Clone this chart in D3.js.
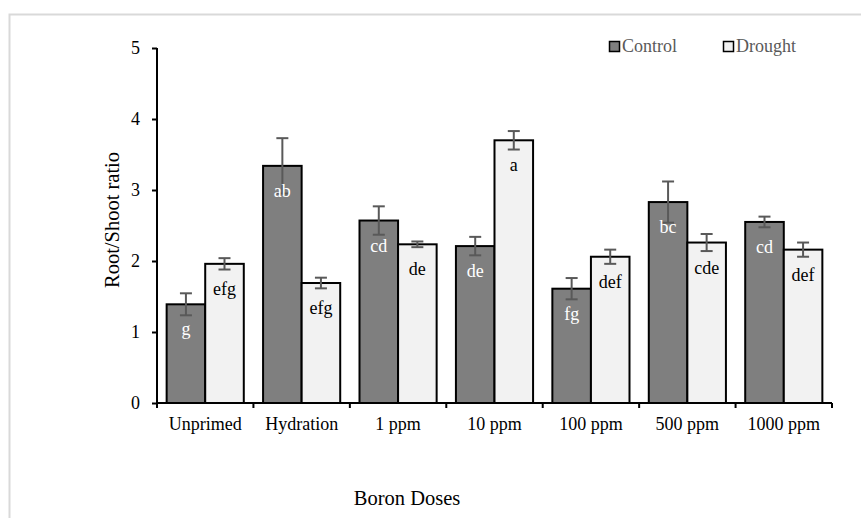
<!DOCTYPE html>
<html><head><meta charset="utf-8">
<script src="https://cdn.jsdelivr.net/npm/d3@7"></script>
<style>
html,body{margin:0;padding:0;background:#fff;}
svg{display:block;}
</style></head>
<body>
<script>
const categories = ["Unprimed","Hydration","1 ppm","10 ppm","100 ppm","500 ppm","1000 ppm"];
const seriesNames = ["Control","Drought"];
const controlValues = [1.39, 3.34, 2.57, 2.21, 1.61, 2.83, 2.55];
const droughtValues = [1.96, 1.69, 2.235, 3.70, 2.06, 2.26, 2.16];
const controlErrors = [0.155, 0.39, 0.20, 0.13, 0.15, 0.29, 0.075];
const droughtErrors = [0.08, 0.075, 0.04, 0.13, 0.10, 0.12, 0.10];
const controlLetters = ["g","ab","cd","de","fg","bc","cd"];
const droughtLetters = ["efg","efg","de","a","def","cde","def"];
const yTicks = [0,1,2,3,4,5];

const FONT = "Liberation Serif, Times New Roman, serif";
const W = 861, H = 518;
const svg = d3.select("body").append("svg").attr("width", W).attr("height", H)
  .attr("font-family", FONT);

// outer frame
svg.append("rect").attr("x", 9.5).attr("y", 14.5).attr("width", 900).attr("height", 600)
  .attr("fill", "none").attr("stroke", "#d9d9d9").attr("stroke-width", 2);

const mLeft = 157, mRight = 832, mTop = 48, mBottom = 403;
const x = d3.scaleBand().domain(categories).range([mLeft, mRight]).paddingInner(0.2).paddingOuter(0.1);
const xs = d3.scaleBand().domain(seriesNames).range([0, x.bandwidth()]);
const y = d3.scaleLinear().domain([0, 5]).range([mBottom, mTop]);

const data = categories.map((c, i) => ({
  cat: c,
  items: [
    {s: "Control", v: controlValues[i], e: controlErrors[i], l: controlLetters[i]},
    {s: "Drought", v: droughtValues[i], e: droughtErrors[i], l: droughtLetters[i]}
  ]
}));
const fill = {Control: "#7f7f7f", Drought: "#f2f2f2"};
const labelColor = {Control: "#ffffff", Drought: "#000000"};

const g = svg.selectAll("g.grp").data(data).enter().append("g")
  .attr("transform", d => `translate(${x(d.cat)},0)`);

g.selectAll("rect").data(d => d.items).enter().append("rect")
  .attr("x", d => xs(d.s)).attr("width", xs.bandwidth())
  .attr("y", d => y(d.v)).attr("height", d => y(0) - y(d.v))
  .attr("fill", d => fill[d.s]).attr("stroke", "#000").attr("stroke-width", 2);

// error bars
const eb = g.selectAll("g.eb").data(d => d.items).enter().append("g").attr("stroke", "#595959").attr("stroke-width", 2);
eb.append("line")
  .attr("x1", d => xs(d.s) + xs.bandwidth()/2).attr("x2", d => xs(d.s) + xs.bandwidth()/2)
  .attr("y1", d => y(d.v - d.e)).attr("y2", d => y(d.v + d.e));
eb.append("line")
  .attr("x1", d => xs(d.s) + xs.bandwidth()/2 - 6).attr("x2", d => xs(d.s) + xs.bandwidth()/2 + 6)
  .attr("y1", d => y(d.v + d.e)).attr("y2", d => y(d.v + d.e));
eb.append("line")
  .attr("x1", d => xs(d.s) + xs.bandwidth()/2 - 6).attr("x2", d => xs(d.s) + xs.bandwidth()/2 + 6)
  .attr("y1", d => y(d.v - d.e)).attr("y2", d => y(d.v - d.e));

// letters
g.selectAll("text.lab").data(d => d.items).enter().append("text")
  .attr("x", d => xs(d.s) + xs.bandwidth()/2)
  .attr("y", d => y(d.v) + 31)
  .attr("text-anchor", "middle").attr("font-size", 18).attr("font-family", FONT)
  .attr("fill", d => labelColor[d.s]).text(d => d.l);

// y axis
const yAxis = svg.append("g").attr("transform", `translate(${mLeft},0)`)
  .call(d3.axisLeft(y).tickValues(yTicks).tickSize(5).tickPadding(12).tickFormat(d3.format("d")));
yAxis.attr("font-family", FONT);
yAxis.select(".domain").attr("stroke", "#000").attr("stroke-width", 2).attr("d", `M0,${mTop}V${mBottom}`);
yAxis.selectAll(".tick line").attr("stroke", "#000").attr("stroke-width", 2);
yAxis.selectAll(".tick text").attr("font-size", 18).attr("font-family", FONT).attr("fill", "#000");

// x axis
const xAxis = svg.append("g").attr("transform", `translate(0,${mBottom})`)
  .call(d3.axisBottom(x).tickSize(0).tickPadding(14));
xAxis.attr("font-family", FONT);
xAxis.select(".domain").attr("stroke", "#000").attr("stroke-width", 2).attr("d", `M${mLeft},0H${mRight}`);
xAxis.selectAll(".tick text").attr("font-size", 18).attr("font-family", FONT).attr("fill", "#000");
const boundaries = categories.map(c => x(c) - x.step()*x.paddingInner()/2).concat([mRight]);
boundaries[0] = mLeft;
xAxis.selectAll("line.bt").data(boundaries).enter().append("line")
  .attr("x1", d => d).attr("x2", d => d).attr("y1", 0).attr("y2", 5)
  .attr("stroke", "#000").attr("stroke-width", 2);

// titles
svg.append("text").attr("transform", `translate(119,220) rotate(-90)`)
  .attr("text-anchor", "middle").attr("font-size", 20.5).attr("font-family", FONT).text("Root/Shoot ratio");
svg.append("text").attr("x", 407).attr("y", 505)
  .attr("text-anchor", "middle").attr("font-size", 20.5).attr("font-family", FONT).text("Boron Doses");

// legend
const legX = [609, 723];
const leg = svg.selectAll("g.leg").data(seriesNames).enter().append("g")
  .attr("transform", (d, i) => `translate(${legX[i]},41)`);
leg.append("rect").attr("x", 0.5).attr("y", 0.5).attr("width", 10).attr("height", 10)
  .attr("fill", d => fill[d]).attr("stroke", "#000").attr("stroke-width", 1.5);
leg.append("text").attr("x", 13).attr("y", 11).attr("font-size", 18).attr("font-family", FONT)
  .attr("fill", "#595959").text(d => d);
</script>
</body></html>
